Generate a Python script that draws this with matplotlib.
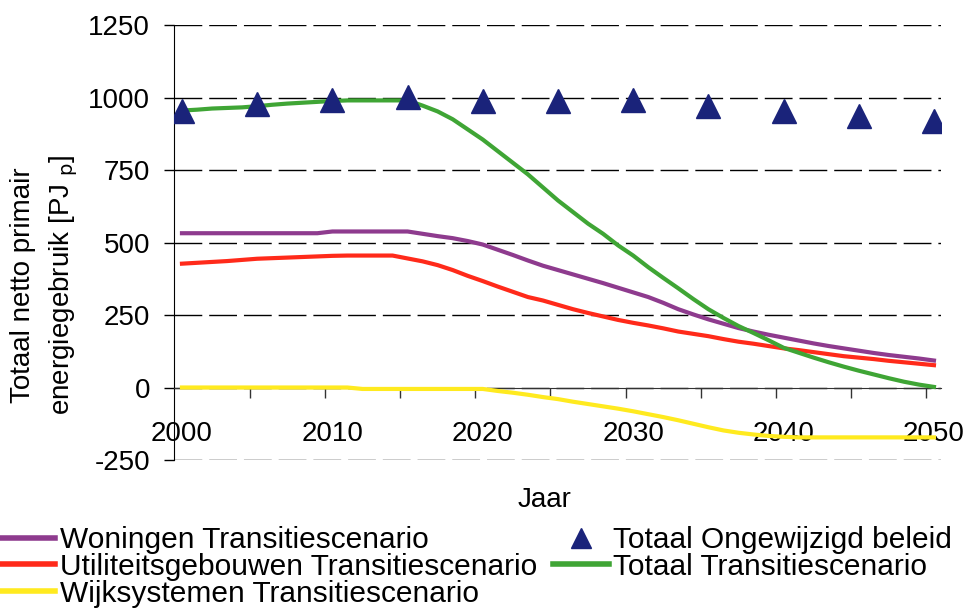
import matplotlib
matplotlib.use('Agg')
import matplotlib.pyplot as plt
from matplotlib.lines import Line2D

plt.rcParams['font.family'] = ['Liberation Sans', 'DejaVu Sans']
plt.rcParams['axes.unicode_minus'] = False

# Data
years = list(range(2000, 2051))

woningen = [532, 532, 532, 532, 532, 532, 532, 532, 532, 532,
            538, 538, 538, 538, 538, 538, 530, 522, 515, 505,
            493, 475, 457, 438, 420, 405, 390, 375, 360, 344,
            328, 312, 292, 270, 252, 235, 220, 205, 193, 182,
            172, 162, 152, 143, 135, 127, 119, 112, 106, 100, 93]

utiliteit = [427, 430, 433, 436, 440, 444, 446, 448, 450, 452,
             454, 455, 455, 455, 455, 445, 435, 422, 405, 385,
             367, 348, 330, 312, 300, 285, 270, 257, 245, 233,
             223, 214, 204, 193, 185, 177, 167, 158, 151, 143,
             135, 129, 122, 115, 108, 103, 98, 92, 87, 82, 77]

wijk = [0, 0, 0, 0, 0, 0, 0, 0, 0, 0,
        0, 0, -5, -5, -5, -5, -5, -5, -5, -5,
        -5, -12, -18, -25, -33, -40, -49, -57, -65, -73,
        -82, -92, -102, -113, -125, -137, -148, -156, -162, -167,
        -170, -172, -172, -172, -172, -172, -172, -172, -172, -172, -172]

totaal_trans = [955, 958, 962, 964, 966, 970, 975, 979, 982, 985,
                988, 990, 990, 990, 990, 990, 972, 952, 925, 890,
                855, 815, 775, 735, 690, 645, 605, 565, 530, 490,
                455, 415, 378, 342, 305, 270, 240, 212, 188, 163,
                137, 120, 103, 87, 72, 58, 45, 32, 20, 10, 2]

years_5 = [2000, 2005, 2010, 2015, 2020, 2025, 2030, 2035, 2040, 2045, 2050]
totaal_ongewijzigd = [953, 977, 991, 1003, 987, 987, 992, 971, 952, 936, 920]

y_ticks = [-250, 0, 250, 500, 750, 1000, 1250]
x_labels = [2000, 2010, 2020, 2030, 2040, 2050]

c_purple = '#8E3B8E'
c_red = '#FF2A1A'
c_yellow = '#FFEA1F'
c_green = '#3FA535'
c_navy = '#1A237A'

fig = plt.figure(figsize=(9.73, 6.10), dpi=100)
ax = fig.add_axes([0.1793, 0.2459, 0.7883, 0.7131])

ax.plot(years, woningen, color=c_purple, lw=3, zorder=3)
ax.plot(years, utiliteit, color=c_red, lw=3, zorder=3)
ax.plot(years, wijk, color=c_yellow, lw=3, zorder=3)
ax.plot(years, totaal_trans, color=c_green, lw=3, zorder=3)
ax.plot(years_5, totaal_ongewijzigd, linestyle='none', marker='^', markersize=17,
        color=c_navy, zorder=4)

ax.set_xlim(1999.5, 2050.5)
ax.set_ylim(-250, 1250)

# horizontal dashed gridlines
ax.set_yticks(y_ticks)
ax.yaxis.grid(True, color='black', lw=1, linestyle=(0, (20, 5)))
ax.set_axisbelow(True)
ax.tick_params(axis='y', direction='out', length=7.5, width=1, pad=10, labelsize=20)

# x axis crosses at y = 0, ticks between categories
ax.spines['bottom'].set_position(('data', 0))
ax.spines['bottom'].set_color('#333333')
ax.spines['top'].set_visible(False)
ax.spines['right'].set_visible(False)
ax.set_xticks(x_labels)
ax.set_xticks([2004.5 + 5 * k for k in range(10)], minor=True)
ax.tick_params(axis='x', which='major', length=0, pad=24, labelsize=20)
ax.tick_params(axis='x', which='minor', direction='out', length=7.5, width=1, color='#333333')

fig.text(545 / 973, 1 - 500 / 610, 'Jaar', ha='center', va='center', fontsize=20)
fig.text(45 / 973, 1 - 285 / 610,
         'Totaal netto primair\nenergiegebruik [PJ $_\\mathrm{p}$]',
         rotation=90, ha='center', va='center', fontsize=20, linespacing=1.55)

handles = [
    Line2D([], [], color=c_purple, lw=4),
    Line2D([], [], color=c_red, lw=4),
    Line2D([], [], color=c_yellow, lw=4),
    Line2D([], [], linestyle='none', marker='^', markersize=15, color=c_navy),
    Line2D([], [], color=c_green, lw=4),
]
labels = ['Woningen Transitiescenario', 'Utiliteitsgebouwen Transitiescenario',
          'Wijksystemen Transitiescenario', 'Totaal Ongewijzigd beleid',
          'Totaal Transitiescenario']
fig.legend(handles, labels, ncol=2, loc='upper left', bbox_to_anchor=(0.0, 1 - 526 / 610),
           frameon=False, fontsize=21.5, handlelength=1.85, handletextpad=0.15,
           columnspacing=0.55, labelspacing=-0.04, borderpad=0, borderaxespad=0)

fig.savefig('out.png', dpi=100)
